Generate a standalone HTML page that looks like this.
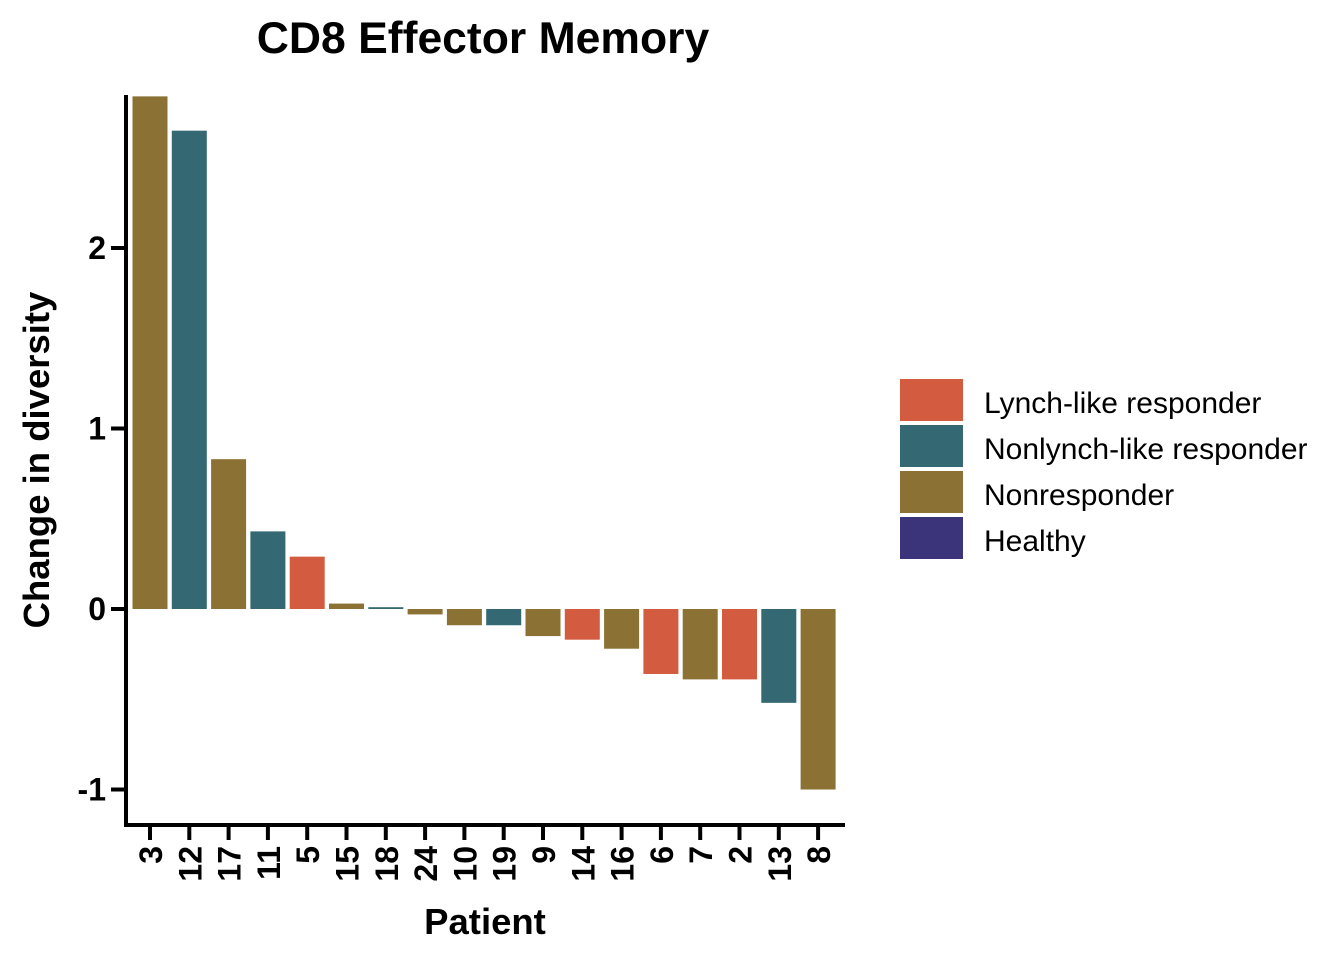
<!DOCTYPE html>
<html><head><meta charset="utf-8"><style>
body{margin:0;background:#fff;}
svg text{font-family:"Liberation Sans",Arial,sans-serif;}
</style></head><body>
<svg id="chart" width="1344" height="960">
<text x="483" y="53" text-anchor="middle" font-size="44.5" font-weight="bold">CD8 Effector Memory</text>
<g id="bars"></g>
<g id="axes"></g>
<text transform="translate(49,460) rotate(-90)" text-anchor="middle" font-size="36.5" font-weight="bold">Change in diversity</text>
<text x="485" y="934" text-anchor="middle" font-size="36.5" font-weight="bold">Patient</text>
<g id="legend"></g>
</svg>
<script>
const categories=["3","12","17","11","5","15","18","24","10","19","9","14","16","6","7","2","13","8"];
const values=[2.84,2.65,0.83,0.43,0.29,0.03,0.01,-0.03,-0.09,-0.09,-0.15,-0.17,-0.22,-0.36,-0.39,-0.39,-0.52,-1.0];
const groups=["N","NL","N","NL","L","N","NL","N","N","NL","N","L","N","L","N","L","NL","N"];
const yTicks=[-1,0,1,2];
const legendLabels=["Lynch-like responder","Nonlynch-like responder","Nonresponder","Healthy"];
const legendKeys=["L","NL","N","H"];
const colors={L:"#D35B40",NL:"#346872",N:"#8B7133",H:"#3C347A"};
const NS="http://www.w3.org/2000/svg";
const y=v=>609-v*180.5;
const x=i=>150+i*39.3;
const bw=35;
function mk(t,a,p){const e=document.createElementNS(NS,t);for(const k in a)e.setAttribute(k,a[k]);p.appendChild(e);return e;}
const bars=document.getElementById('bars'),axes=document.getElementById('axes'),leg=document.getElementById('legend');
values.forEach((v,i)=>{
 const r=mk('rect',{x:x(i)-bw/2,y:Math.min(y(v),y(0)),width:bw,height:Math.max(Math.abs(y(v)-y(0)),1),fill:colors[groups[i]]},bars);
 
 
 const t=mk('line',{x1:x(i),x2:x(i),y1:825,y2:840,stroke:'#000','stroke-width':4},axes);
 
 
 const l=mk('text',{transform:`translate(${x(i)+12},846) rotate(-90)`,'text-anchor':'end','font-size':32,'font-weight':'bold'},axes);
 l.textContent=categories[i];
 
 
});
const ya=mk('line',{x1:126,x2:126,y1:95,y2:827,stroke:'#000','stroke-width':4},axes);


const xa=mk('line',{x1:124,x2:845,y1:825,y2:825,stroke:'#000','stroke-width':4},axes);


yTicks.forEach(v=>{
 const t=mk('line',{x1:111,x2:126,y1:y(v),y2:y(v),stroke:'#000','stroke-width':4},axes);
 
 
 const l=mk('text',{x:106,y:y(v)+11,'text-anchor':'end','font-size':32,'font-weight':'bold'},axes);
 l.textContent=String(v);
 
 
});
legendLabels.forEach((s,i)=>{
 const r=mk('rect',{x:900,y:379+i*46,width:63,height:42,fill:colors[legendKeys[i]]},leg);
 
 
 const t=mk('text',{x:984,y:413+i*46,'font-size':30},leg);
 t.textContent=s;
 
 
});
</script>
</body></html>
